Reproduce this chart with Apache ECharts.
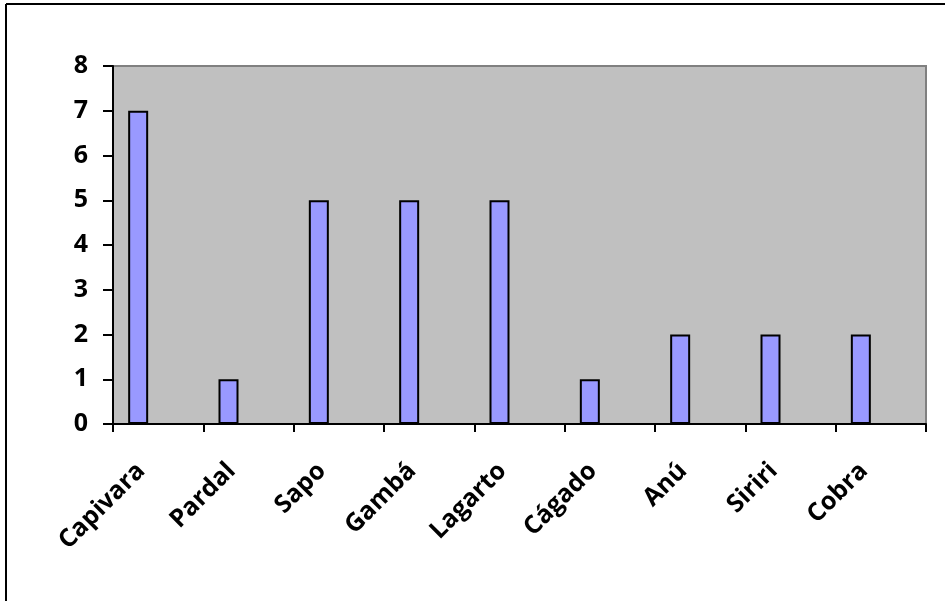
<!DOCTYPE html>
<html>
<head>
<meta charset="utf-8">
<script src="https://cdn.jsdelivr.net/npm/echarts@6/dist/echarts.min.js"></script>
<style>
html,body{margin:0;padding:0;background:#fff;}
#chart{width:945px;height:601px;}
</style>
</head>
<body>
<div id="chart"></div>
<script>
var categories = ['Capivara', 'Pardal', 'Sapo', 'Gambá', 'Lagarto', 'Cágado', 'Anú', 'Siriri', 'Cobra'];
var values = [7, 1, 5, 5, 5, 1, 2, 2, 2];
// the original sheet has two more (empty) series, they only reserve space next to each bar
var emptyA = [];
var emptyB = [];
var yTicks = [0, 8, 1];

var myChart = echarts.init(document.getElementById('chart'));
var font = 'Open Sans';

option = {
    animation: false,
    backgroundColor: '#fff',
    graphic: [
        { type: 'line', shape: { x1: 6, y1: 4, x2: 945, y2: 4 }, style: { stroke: '#000', lineWidth: 2 } },
        { type: 'line', shape: { x1: 6, y1: 4, x2: 6, y2: 601 }, style: { stroke: '#000', lineWidth: 2 } }
    ],
    grid: {
        left: 113,
        top: 66,
        right: 19,
        bottom: 177,
        show: true,
        backgroundColor: '#C0C0C0',
        borderColor: '#808080',
        borderWidth: 2
    },
    xAxis: {
        type: 'category',
        data: categories,
        axisLine: { lineStyle: { color: '#000', width: 2 } },
        axisTick: { show: true, length: 8, lineStyle: { color: '#000', width: 2 } },
        axisLabel: {
            rotate: 45,
            margin: 26,
            padding: [0, 24, 0, 0],
            interval: 0,
            color: '#000',
            fontFamily: font,
            fontWeight: 'bold',
            fontSize: 25
        }
    },
    yAxis: {
        type: 'value',
        min: yTicks[0],
        max: yTicks[1],
        interval: yTicks[2],
        splitLine: { show: false },
        axisLine: { show: true, lineStyle: { color: '#000', width: 2 } },
        axisTick: { show: true, length: 10, lineStyle: { color: '#000', width: 2 } },
        axisLabel: {
            margin: 25,
            color: '#000',
            fontFamily: font,
            fontWeight: 'bold',
            fontSize: 25
        }
    },
    series: [
        {
            type: 'bar',
            data: values,
            barWidth: 20,
            barGap: '0%',
            itemStyle: { color: '#9999FF', borderColor: '#000', borderWidth: 2 }
        },
        { type: 'bar', data: emptyA, barWidth: 20, barGap: '0%' },
        { type: 'bar', data: emptyB, barWidth: 20, barGap: '0%' }
    ]
};

myChart.setOption(option);
window.addEventListener("resize", function(){
    myChart.resize();
});
</script>
</body>
</html>
